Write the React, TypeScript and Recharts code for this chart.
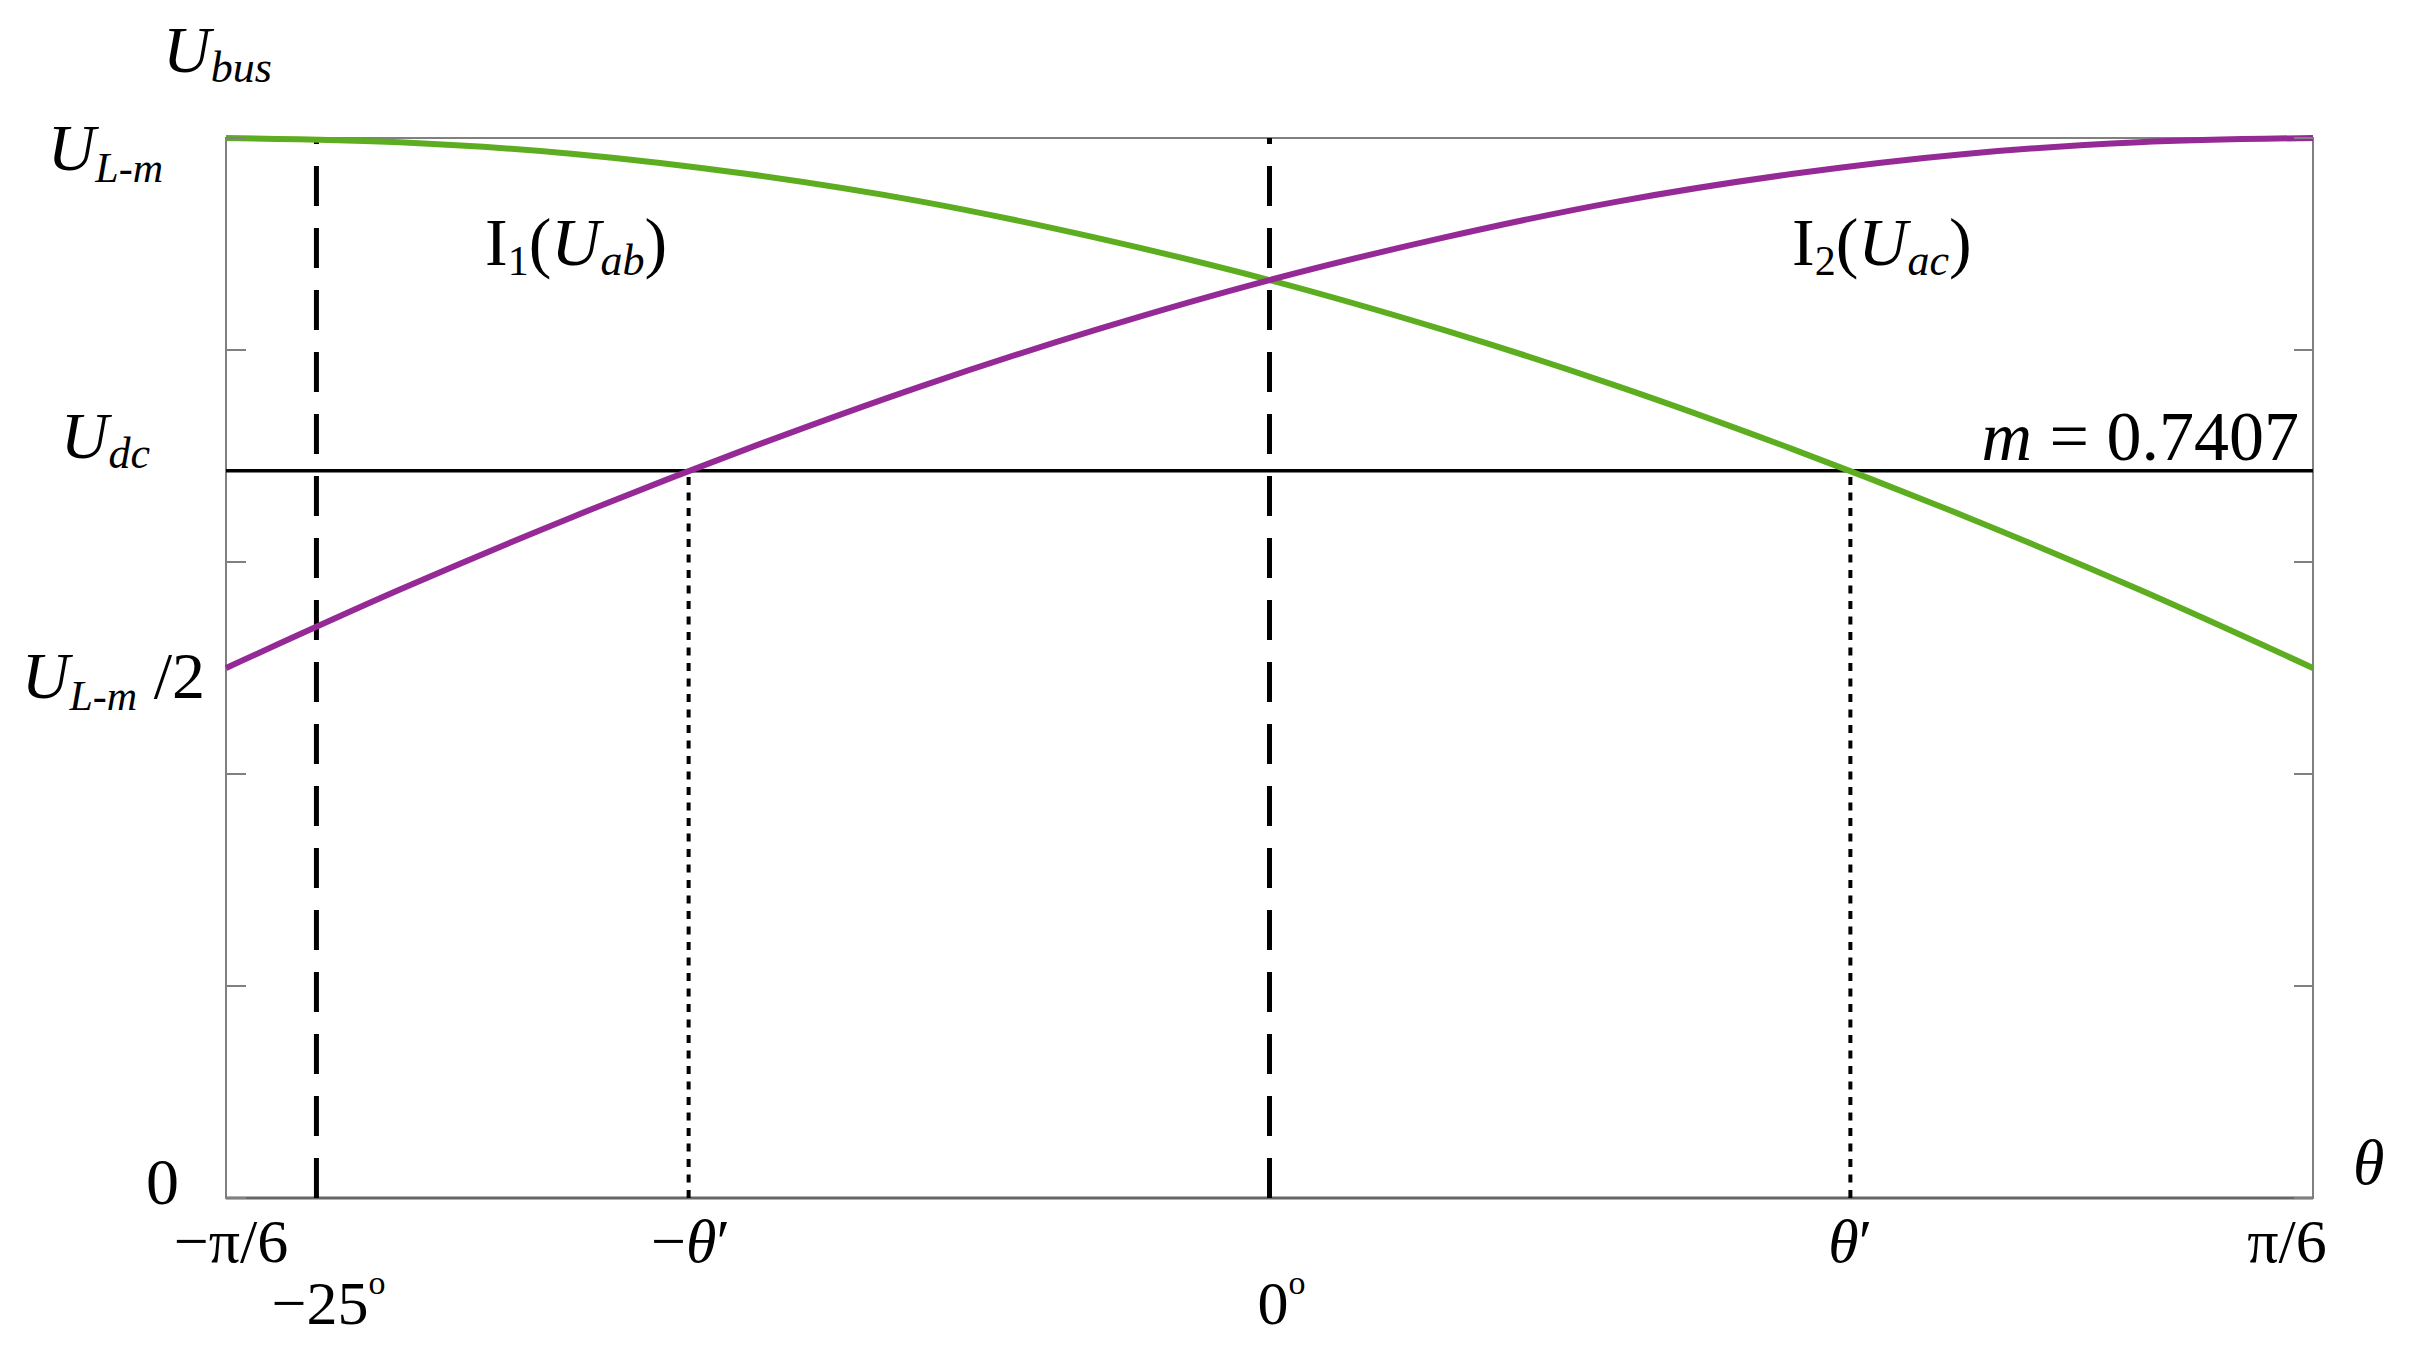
import { LineChart, Line, XAxis, YAxis, ReferenceLine, ReferenceArea, Customized } from "recharts";

// angle theta in degrees, bus voltage in units of U_L-m
const thetaDeg = [-30, -25, -20, -15, -10, -5, 0, 5, 10, 15, 20, 25, 30];
const uabValues = [1.0, 0.996, 0.985, 0.966, 0.94, 0.906, 0.866, 0.819, 0.766, 0.707, 0.643, 0.574, 0.5];
const uacValues = [0.5, 0.574, 0.643, 0.707, 0.766, 0.819, 0.866, 0.906, 0.94, 0.966, 0.985, 0.996, 1.0];

const udcLevel = 0.686;
const thetaPrime = 16.7;
const markerTheta = -27.4;

const xTickValues = [-30, markerTheta, -thetaPrime, 0, thetaPrime, 30];
const xTickTop = ["−π/6", "", "−θ′", "", "θ′", "π/6"];
const xTickBottom = ["", "−25", "", "0", "", ""];
const yTickValues = [0, 0.2, 0.4, 0.6, 0.8, 1];
const yLabelValues = [0, 0.5, udcLevel, 1];

const data = thetaDeg.map((t, i) => ({ theta: t, uab: uabValues[i], uac: uacValues[i] }));
const yAllTicks = Array.from(new Set([...yTickValues, ...yLabelValues])).sort((a, b) => a - b);

const FONT = "Liberation Serif";
const GREEN = "#5cad1f";
const PURPLE = "#952a96";
const GRAY = "#808080";
const PLOT_W = 2088;

const yLabelPos = [
  { dx: -47, dy: 6 },
  { dx: -21, dy: 30 },
  { dx: -76, dy: -13 },
  { dx: -63, dy: 32 },
];

function YLabel({ x, y, which }: { x: number; y: number; which: number }) {
  const p = yLabelPos[which];
  const common = { x: x + p.dx, y: y + p.dy, textAnchor: "end" as const, fontFamily: FONT, fontSize: 66, fill: "#000" };
  if (which === 0) return <text {...common}>0</text>;
  if (which === 1)
    return (
      <text {...common}>
        <tspan fontStyle="italic">U</tspan>
        <tspan fontStyle="italic" fontSize={42} dy={12}>L-m</tspan>
        <tspan dy={-12}> /2</tspan>
      </text>
    );
  if (which === 2)
    return (
      <text {...common}>
        <tspan fontStyle="italic">U</tspan>
        <tspan fontStyle="italic" fontSize={44} dy={10}>dc</tspan>
      </text>
    );
  return (
    <text {...common}>
      <tspan fontStyle="italic">U</tspan>
      <tspan fontStyle="italic" fontSize={42} dy={12}>L-m</tspan>
    </text>
  );
}

// one tick renderer: inner tick marks on both sides of the frame, plus the named levels
function YTick(props: any) {
  const { x, y, payload } = props;
  const v = payload.value;
  const hasMark = yTickValues.some((t) => Math.abs(t - v) < 1e-6);
  const which = yLabelValues.findIndex((t) => Math.abs(t - v) < 1e-6);
  return (
    <g>
      {hasMark && (
        <>
          <line x1={x} x2={x + 20} y1={y} y2={y} stroke={GRAY} strokeWidth={2} />
          <line x1={x + PLOT_W - 20} x2={x + PLOT_W} y1={y} y2={y} stroke={GRAY} strokeWidth={2} />
        </>
      )}
      {which >= 0 && <YLabel x={x} y={y} which={which} />}
    </g>
  );
}

const xTopDx = [5, 0, 2, 0, 0, -26];

function XLabelTick(props: any) {
  const { x, y, index } = props;
  const top = xTickTop[index];
  const bottom = xTickBottom[index];
  return (
    <g fontFamily={FONT} fill="#000">
      {top && (
        <text x={x + xTopDx[index]} y={y + 64} textAnchor="middle" fontSize={62}>
          {top.split("").map((c, i) => (
            <tspan key={i} fontStyle={c === "θ" ? "italic" : "normal"}>{c}</tspan>
          ))}
        </text>
      )}
      {bottom && (
        <text x={x + 12} y={y + 126} textAnchor="middle" fontSize={62}>
          {bottom}
          <tspan fontSize={34} dy={-30}>o</tspan>
        </text>
      )}
    </g>
  );
}

function Annotations() {
  return (
    <g fontFamily={FONT} fill="#000">
      <text x={163} y={72} fontSize={66}>
        <tspan fontStyle="italic">U</tspan>
        <tspan fontStyle="italic" fontSize={44} dy={10}>bus</tspan>
      </text>
      <text x={2353} y={1184} fontSize={64} fontStyle="italic">θ</text>
      <text x={485} y={265} fontSize={68}>
        I<tspan fontSize={42} dy={10}>1</tspan>
        <tspan dy={-10}>(</tspan>
        <tspan fontStyle="italic">U</tspan>
        <tspan fontStyle="italic" fontSize={44} dy={10}>ab</tspan>
        <tspan dy={-10}>)</tspan>
      </text>
      <text x={1792} y={265} fontSize={68}>
        I<tspan fontSize={42} dy={10}>2</tspan>
        <tspan dy={-10}>(</tspan>
        <tspan fontStyle="italic">U</tspan>
        <tspan fontStyle="italic" fontSize={44} dy={10}>ac</tspan>
        <tspan dy={-10}>)</tspan>
      </text>
      <text x={2299} y={460} fontSize={70} textAnchor="end">
        <tspan fontStyle="italic">m</tspan> = 0.7407
      </text>
    </g>
  );
}

export default function App() {
  return (
    <div style={{ position: "absolute", left: 0, top: 0, background: "#fff" }}>
      <LineChart width={2411} height={1345} data={data} margin={{ top: 138, right: 98, bottom: 117, left: 225 }}>
        <XAxis
          dataKey="theta"
          type="number"
          domain={[-30, 30]}
          ticks={xTickValues}
          interval={0}
          axisLine={false}
          tickLine={false}
          tickSize={0}
          tickMargin={0}
          height={30}
          tick={<XLabelTick />}
        />
        <YAxis
          type="number"
          domain={[0, 1]}
          ticks={yAllTicks}
          interval={0}
          axisLine={false}
          tickLine={false}
          tickSize={0}
          tickMargin={0}
          width={1}
          tick={<YTick />}
        />
        <ReferenceArea x1={-30} x2={30} y1={0} y2={1} fill="none" stroke={GRAY} strokeWidth={2} />
        <ReferenceLine y={0} stroke="#666" strokeWidth={3} />
        <ReferenceLine x={markerTheta} stroke="#000" strokeWidth={5} strokeDasharray="40 22" />
        <ReferenceLine x={0} stroke="#000" strokeWidth={5} strokeDasharray="40 22" />
        <ReferenceLine
          segment={[{ x: -thetaPrime, y: 0 }, { x: -thetaPrime, y: udcLevel }]}
          stroke="#000"
          strokeWidth={4}
          strokeDasharray="8 7.5"
        />
        <ReferenceLine
          segment={[{ x: thetaPrime, y: 0 }, { x: thetaPrime, y: udcLevel }]}
          stroke="#000"
          strokeWidth={4}
          strokeDasharray="8 7.5"
        />
        <ReferenceLine y={udcLevel} stroke="#000" strokeWidth={3.5} />
        <Line type="monotone" dataKey="uab" stroke={GREEN} strokeWidth={6} dot={false} isAnimationActive={false} />
        <Line type="monotone" dataKey="uac" stroke={PURPLE} strokeWidth={6} dot={false} isAnimationActive={false} />
        <Customized component={Annotations} />
      </LineChart>
    </div>
  );
}
